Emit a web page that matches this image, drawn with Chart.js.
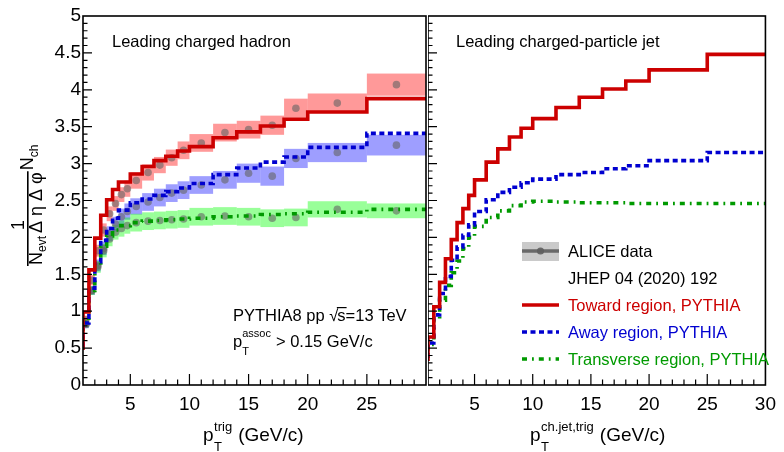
<!DOCTYPE html>
<html>
<head>
<meta charset="utf-8">
<script src="https://cdn.jsdelivr.net/npm/chart.js@4.4.1/dist/chart.umd.min.js"></script>
<style>
  html, body { margin: 0; padding: 0; background: #fff; }
  #wrap { position: relative; width: 784px; height: 452px; overflow: hidden; }
  #left { position: absolute; left: 0; top: 0; }
  #right { position: absolute; left: 428px; top: 0; }
</style>
</head>
<body>
<div id="wrap">
  <canvas id="left" width="430" height="452"></canvas>
  <canvas id="right" width="356" height="452"></canvas>
</div>
<script>
// ---- data ----
// leading charged hadron, PYTHIA histograms (bin edges + contents)
const EDGES_H = [0.5, 1, 1.5, 2, 2.5, 3, 3.5, 4, 5, 6, 7, 8, 9, 10, 12, 14, 16, 18, 20, 25, 30];
const TOWARD_H = [0.50, 0.99, 1.56, 1.99, 2.30, 2.51, 2.65, 2.75, 2.86, 2.96, 3.04, 3.10, 3.17, 3.23, 3.35, 3.43, 3.51, 3.60, 3.70, 3.88];
const AWAY_H   = [0.48, 0.84, 1.31, 1.67, 1.96, 2.12, 2.26, 2.37, 2.47, 2.52, 2.57, 2.62, 2.67, 2.73, 2.85, 2.94, 3.02, 3.09, 3.22, 3.41];
const TRANS_H  = [0.45, 0.85, 1.28, 1.62, 1.88, 2.02, 2.10, 2.16, 2.20, 2.22, 2.23, 2.24, 2.25, 2.26, 2.28, 2.29, 2.31, 2.32, 2.34, 2.38];

// ALICE data (JHEP 04 (2020) 192), values and systematic half-heights
const EDGES_D = [1, 1.5, 2, 2.5, 3, 3.5, 4, 4.5, 5, 6, 7, 8, 9, 10, 12, 14, 16, 18, 20, 25, 30];
const TOWARD_D   = [0.88, 1.42, 1.82, 2.10, 2.32, 2.46, 2.58, 2.66, 2.77, 2.88, 2.98, 3.08, 3.18, 3.28, 3.42, 3.46, 3.52, 3.75, 3.82, 4.07];
const TOWARD_SYS = [0.06, 0.07, 0.08, 0.09, 0.10, 0.10, 0.10, 0.11, 0.11, 0.11, 0.11, 0.11, 0.12, 0.12, 0.12, 0.12, 0.13, 0.13, 0.13, 0.15];
const AWAY_D     = [0.82, 1.28, 1.62, 1.85, 2.05, 2.18, 2.28, 2.35, 2.42, 2.48, 2.54, 2.60, 2.64, 2.71, 2.78, 2.87, 2.83, 3.07, 3.15, 3.25];
const AWAY_SYS   = [0.05, 0.06, 0.08, 0.09, 0.10, 0.10, 0.11, 0.11, 0.11, 0.12, 0.12, 0.12, 0.12, 0.12, 0.12, 0.13, 0.13, 0.13, 0.13, 0.14];
const TRANS_D    = [0.83, 1.28, 1.60, 1.82, 1.98, 2.07, 2.12, 2.16, 2.20, 2.22, 2.23, 2.24, 2.25, 2.28, 2.29, 2.28, 2.26, 2.27, 2.38, 2.36];
const TRANS_SYS  = [0.05, 0.06, 0.08, 0.09, 0.10, 0.10, 0.11, 0.11, 0.12, 0.12, 0.12, 0.12, 0.12, 0.12, 0.12, 0.12, 0.12, 0.12, 0.11, 0.10];

// leading charged-particle jet, PYTHIA histograms
const EDGES_J = [0.5, 1, 1.5, 2, 2.5, 3, 3.5, 4, 4.5, 5, 6, 7, 8, 9, 10, 12, 14, 16, 18, 20, 25, 30];
const TOWARD_J = [0.35, 0.65, 1.06, 1.39, 1.71, 1.97, 2.20, 2.39, 2.57, 2.78, 3.02, 3.20, 3.36, 3.48, 3.61, 3.76, 3.90, 4.01, 4.12, 4.27, 4.48];
const AWAY_J   = [0.33, 0.57, 0.95, 1.24, 1.47, 1.69, 1.87, 2.03, 2.17, 2.35, 2.51, 2.61, 2.68, 2.74, 2.79, 2.85, 2.88, 2.93, 2.97, 3.04, 3.15];
const TRANS_J  = [0.32, 0.55, 0.90, 1.15, 1.35, 1.52, 1.68, 1.85, 2.00, 2.15, 2.27, 2.36, 2.43, 2.48, 2.49, 2.48, 2.47, 2.47, 2.46, 2.46, 2.46];

const Y_TICKS = [0, 0.5, 1, 1.5, 2, 2.5, 3, 3.5, 4, 4.5, 5];
const X_TICKS_LEFT = [5, 10, 15, 20, 25];
const X_TICKS_RIGHT = [5, 10, 15, 20, 25, 30];

// ---- styles ----
const FONT = "'Liberation Sans', Arial, Helvetica, sans-serif";
const RED = '#cc0000', BLUE = '#0000d0', GREEN = '#009a00';
const DASH_AWAY = [5, 3.5];
const DASH_TRANS = [5, 5, 1.8, 5];

function stepPoints(edges, vals) {
  const pts = vals.map((v, i) => ({ x: edges[i], y: v }));
  pts.push({ x: edges[edges.length - 1], y: vals[vals.length - 1] });
  return pts;
}
function centers(edges) {
  return edges.slice(0, -1).map((e, i) => (e + edges[i + 1]) / 2);
}
function histLine(label, edges, vals, color, dash) {
  return {
    type: 'line', label: label, data: stepPoints(edges, vals), stepped: 'before',
    borderColor: color, borderWidth: 3.6, borderDash: dash || [], borderCapStyle: 'butt',
    borderJoinStyle: 'miter', pointRadius: 0, fill: false, showLine: true
  };
}
function dataPoints(label, edges, vals) {
  const c = centers(edges);
  return {
    type: 'scatter', label: label, data: vals.map((v, i) => ({ x: c[i], y: v })),
    pointRadius: 3.8, pointBackgroundColor: 'rgba(100,100,100,0.6)', pointBorderWidth: 0, showLine: false
  };
}

function text(ctx, s, x, y, size, color, align) {
  ctx.font = size + 'px ' + FONT;
  ctx.fillStyle = color || '#000';
  ctx.textAlign = align || 'left';
  ctx.textBaseline = 'alphabetic';
  ctx.fillText(s, x, y);
  return ctx.measureText(s).width;
}

function drawXTitle(ctx, x, sup) {
  const base = 441;
  let w = text(ctx, 'p', x, base, 19);
  const px = x + w + 0.5;
  const wT = text(ctx, 'T', px, base + 10, 13);
  const wS = text(ctx, sup, px, base - 10, 13);
  text(ctx, '(GeV/c)', px + Math.max(wT, wS) + 6, base, 19);
}

function drawYTitle(ctx) {
  ctx.save();
  ctx.translate(0, 265);
  ctx.rotate(-Math.PI / 2);
  // local x runs up the page, local y runs to the right
  let u = 0;
  u += text(ctx, 'N', u, 42, 18);
  u += text(ctx, 'evt', u, 46, 12) + 3;
  u += text(ctx, '\u0394 \u03B7 \u0394 \u03C6', u, 42, 18);
  const denEnd = u;
  ctx.fillStyle = '#000';
  ctx.fillRect(-1, 27, denEnd + 2, 1.6);
  ctx.font = '18px ' + FONT;
  const w1 = ctx.measureText('1').width;
  text(ctx, '1', 40 - w1 / 2, 24, 18);
  u = denEnd + 2;
  u += text(ctx, 'N', u, 33, 18);
  text(ctx, 'ch', u, 38, 12);
  ctx.restore();
}

// boxes for systematics, frame and inward ticks
const panelDecor = {
  id: 'panelDecor',
  beforeDatasetsDraw(chart, args, o) {
    const ctx = chart.ctx, xs = chart.scales.x, ys = chart.scales.y;
    ctx.save();
    (o.boxes || []).forEach(b => {
      ctx.fillStyle = b.color;
      b.vals.forEach((v, i) => {
        const x0 = xs.getPixelForValue(b.edges[i]);
        const x1 = xs.getPixelForValue(b.edges[i + 1]);
        const y0 = ys.getPixelForValue(v + b.sys[i]);
        const y1 = ys.getPixelForValue(v - b.sys[i]);
        ctx.fillRect(x0, y0, x1 - x0, y1 - y0);
      });
    });
    ctx.restore();
  },
  afterDraw(chart, args, o) {
    const ctx = chart.ctx, a = chart.chartArea, xs = chart.scales.x, ys = chart.scales.y;
    ctx.save();
    ctx.strokeStyle = '#000';
    ctx.lineWidth = 1.6;
    ctx.strokeRect(a.left, a.top, a.right - a.left, a.bottom - a.top);
    ctx.lineWidth = 1.2;
    ctx.beginPath();
    for (let k = 1; k < 50; k++) {
      const yy = ys.getPixelForValue(k / 10);
      const len = k % 5 === 0 ? 9 : 4.5;
      ctx.moveTo(a.left, yy); ctx.lineTo(a.left + len, yy);
    }
    for (let k = 2; k < 30; k++) {
      const xx = xs.getPixelForValue(k);
      const len = k % 5 === 0 ? 11 : 5.5;
      ctx.moveTo(xx, a.bottom); ctx.lineTo(xx, a.bottom - len);
    }
    ctx.stroke();
    ctx.restore();
    ctx.save();
    if (o.draw) o.draw(ctx, chart);
    ctx.restore();
  }
};

function baseOptions(xTicks, showY, padRight, decor) {
  return {
    responsive: false,
    animation: false,
    layout: { padding: { top: 16, right: padRight, left: 0, bottom: 0 } },
    plugins: { legend: { display: false }, tooltip: { enabled: false }, panelDecor: decor },
    scales: {
      x: {
        type: 'linear', min: 1, max: 30,
        grid: { display: false, drawTicks: false }, border: { display: false },
        afterBuildTicks: s => { s.ticks = xTicks.map(v => ({ value: v })); },
        afterFit: s => { s.height = 67; },
        ticks: { font: { family: FONT, size: 19 }, color: '#000', padding: 8, maxRotation: 0, autoSkip: false,
                 callback: v => String(v) }
      },
      y: {
        type: 'linear', min: 0, max: 5, display: showY,
        grid: { display: false, drawTicks: false }, border: { display: false },
        afterBuildTicks: s => { s.ticks = Y_TICKS.map(v => ({ value: v })); },
        afterFit: s => { s.width = showY ? 83 : 0; },
        ticks: { font: { family: FONT, size: 19 }, color: '#000', padding: 2, autoSkip: false,
                 callback: v => String(v) }
      }
    }
  };
}

// ---- left panel: leading charged hadron ----
new Chart(document.getElementById('left'), {
  type: 'scatter',
  plugins: [panelDecor],
  data: {
    datasets: [
      histLine('Toward region, PYTHIA', EDGES_H, TOWARD_H, RED),
      histLine('Away region, PYTHIA', EDGES_H, AWAY_H, BLUE, DASH_AWAY),
      histLine('Transverse region, PYTHIA', EDGES_H, TRANS_H, GREEN, DASH_TRANS),
      dataPoints('ALICE toward', EDGES_D, TOWARD_D),
      dataPoints('ALICE away', EDGES_D, AWAY_D),
      dataPoints('ALICE transverse', EDGES_D, TRANS_D)
    ]
  },
  options: baseOptions(X_TICKS_LEFT, true, 2, {
    boxes: [
      { edges: EDGES_D, vals: TOWARD_D, sys: TOWARD_SYS, color: 'rgba(255,0,0,0.4)' },
      { edges: EDGES_D, vals: AWAY_D, sys: AWAY_SYS, color: 'rgba(0,0,255,0.38)' },
      { edges: EDGES_D, vals: TRANS_D, sys: TRANS_SYS, color: 'rgba(0,255,0,0.4)' }
    ],
    draw(ctx) {
      text(ctx, 'Leading charged hadron', 112, 47, 16.5);
      // PYTHIA8 pp sqrt(s)=13 TeV
      let x = 233;
      x += text(ctx, 'PYTHIA8 pp ', x, 321, 16.5);
      const wr = text(ctx, '\u221A', x, 321, 16.5);
      const ws = text(ctx, 's', x + wr - 1, 321, 16.5);
      ctx.fillRect(x + wr - 1.5, 307, ws + 1.5, 1.2);
      text(ctx, '=13 TeV', x + wr - 1 + ws, 321, 16.5);
      // pT assoc
      const wp = text(ctx, 'p', 233, 347, 16.5);
      const wT = text(ctx, 'T', 233 + wp, 355, 11);
      const wa = text(ctx, 'assoc', 233 + wp, 337, 11);
      text(ctx, '> 0.15 GeV/c', 233 + wp + Math.max(wT, wa) + 5, 347, 16.5);
      drawXTitle(ctx, 203, 'trig');
      drawYTitle(ctx);
    }
  })
});

// ---- right panel: leading charged-particle jet ----
new Chart(document.getElementById('right'), {
  type: 'scatter',
  plugins: [panelDecor],
  data: {
    datasets: [
      histLine('Toward region, PYTHIA', EDGES_J, TOWARD_J, RED),
      histLine('Away region, PYTHIA', EDGES_J, AWAY_J, BLUE, DASH_AWAY),
      histLine('Transverse region, PYTHIA', EDGES_J, TRANS_J, GREEN, DASH_TRANS)
    ]
  },
  options: baseOptions(X_TICKS_RIGHT, false, 12, {
    draw(ctx) {
      text(ctx, 'Leading charged-particle jet', 28, 47, 16.5);
      const lx0 = 94, lx1 = 131, tx = 140;
      // ALICE data entry
      ctx.fillStyle = 'rgba(150,150,150,0.5)';
      ctx.fillRect(lx0, 242, lx1 - lx0, 19);
      ctx.strokeStyle = 'rgba(95,95,95,0.9)';
      ctx.lineWidth = 3.6;
      ctx.beginPath(); ctx.moveTo(lx0, 251); ctx.lineTo(lx1, 251); ctx.stroke();
      ctx.fillStyle = 'rgba(95,95,95,0.9)';
      ctx.beginPath(); ctx.arc((lx0 + lx1) / 2, 251, 3.6, 0, Math.PI * 2); ctx.fill();
      text(ctx, 'ALICE data', tx, 257, 16.5);
      text(ctx, 'JHEP 04 (2020) 192', tx, 284, 16.5);
      const entries = [
        ['Toward region, PYTHIA', RED, [], 305],
        ['Away region, PYTHIA', BLUE, DASH_AWAY, 332],
        ['Transverse region, PYTHIA', GREEN, DASH_TRANS, 359]
      ];
      entries.forEach(e => {
        ctx.strokeStyle = e[1]; ctx.lineWidth = 3.6; ctx.setLineDash(e[2]); ctx.lineCap = 'butt';
        ctx.beginPath(); ctx.moveTo(lx0, e[3]); ctx.lineTo(lx1, e[3]); ctx.stroke();
        ctx.setLineDash([]);
        text(ctx, e[0], tx, e[3] + 6, 16.5, e[1]);
      });
      drawXTitle(ctx, 102, 'ch.jet,trig');
    }
  })
});
</script>
</body>
</html>
